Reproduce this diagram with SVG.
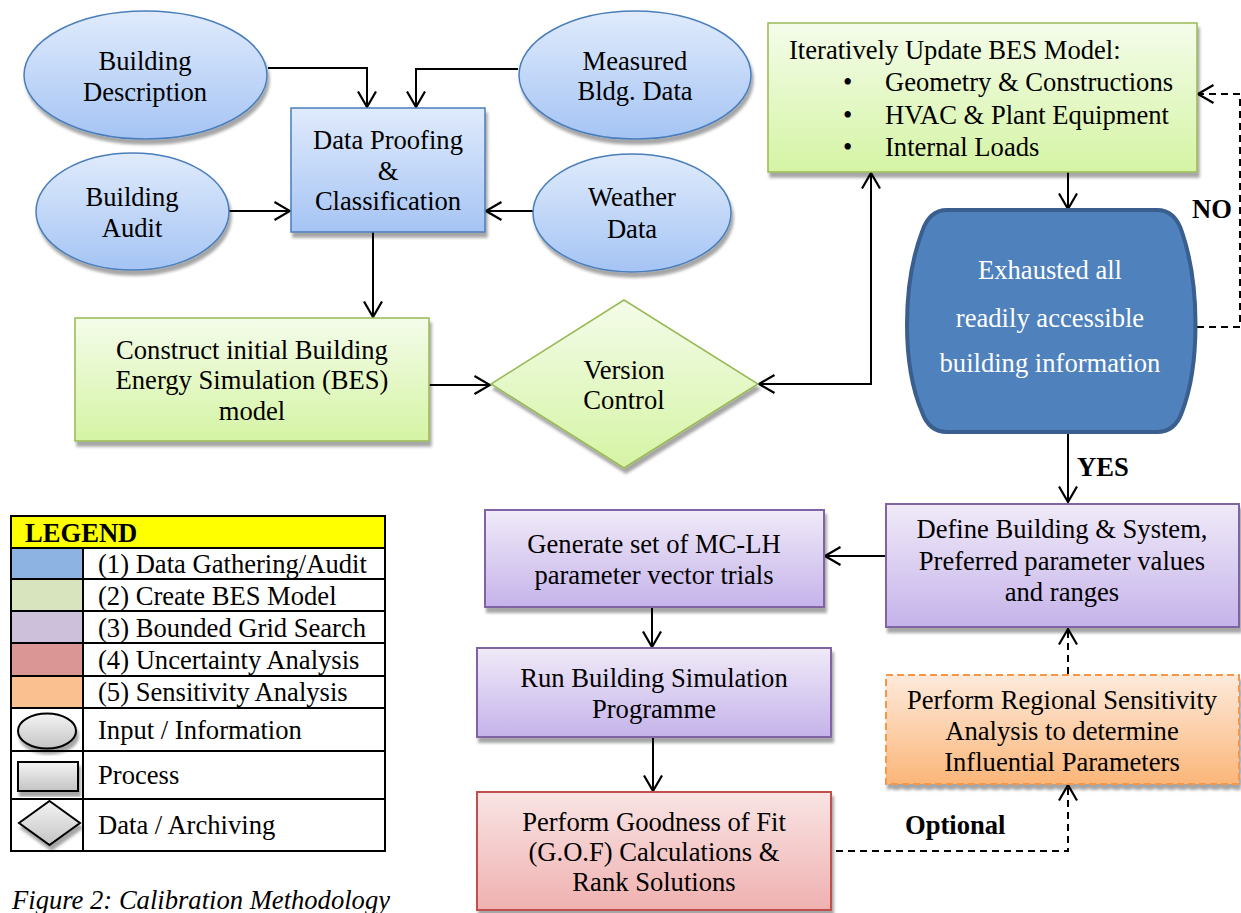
<svg xmlns="http://www.w3.org/2000/svg" width="1241" height="913" viewBox="0 0 1241 913">
<defs>
<linearGradient id="gBlue" x1="0" y1="0" x2="0" y2="1"><stop offset="0" stop-color="#e0ebfc"/><stop offset="1" stop-color="#a5c4f4"/></linearGradient>
<linearGradient id="gGreen" x1="0" y1="0" x2="0" y2="1"><stop offset="0" stop-color="#f4fcea"/><stop offset="1" stop-color="#d5f4a4"/></linearGradient>
<linearGradient id="gPurple" x1="0" y1="0" x2="0" y2="1"><stop offset="0" stop-color="#f0eaf8"/><stop offset="1" stop-color="#c5b3ea"/></linearGradient>
<linearGradient id="gRed" x1="0" y1="0" x2="0" y2="1"><stop offset="0" stop-color="#f9e4e4"/><stop offset="1" stop-color="#efb1b0"/></linearGradient>
<linearGradient id="gOrange" x1="0" y1="0" x2="0" y2="1"><stop offset="0" stop-color="#fdeadb"/><stop offset="1" stop-color="#fbb679"/></linearGradient>
<linearGradient id="gGrey" x1="0" y1="0" x2="0" y2="1"><stop offset="0" stop-color="#f4f4f4"/><stop offset="1" stop-color="#c4c4c4"/></linearGradient>
<filter id="sh" x="-10%" y="-10%" width="125%" height="130%"><feDropShadow dx="2" dy="5" stdDeviation="1.5" flood-color="#000" flood-opacity="0.35"/></filter>
<marker id="arr" viewBox="0 0 18 20" refX="16.5" refY="10" markerWidth="18" markerHeight="20" markerUnits="userSpaceOnUse" orient="auto-start-reverse"><path d="M1,1 L16.5,10 L1,19" fill="none" stroke="#000" stroke-width="2.2"/></marker>
</defs>
<style>
text{font-family:"Liberation Serif","Times New Roman",serif;font-size:26.6px;fill:#000}
.c{text-anchor:middle}
.b{font-weight:bold}
.w{fill:#fff}
.blue{fill:url(#gBlue);stroke:#4a7ebb;stroke-width:1.5;filter:url(#sh)}
.green{fill:url(#gGreen);stroke:#98b954;stroke-width:1.5;filter:url(#sh)}
.purple{fill:url(#gPurple);stroke:#8064a2;stroke-width:2;filter:url(#sh)}
.red{fill:url(#gRed);stroke:#c0504d;stroke-width:2;filter:url(#sh)}
.orange{fill:url(#gOrange);stroke:#f79646;stroke-width:2;stroke-dasharray:7,4;filter:url(#sh)}
.grey{fill:url(#gGrey);stroke:#000;stroke-width:2;filter:url(#sh)}
.ln{fill:none;stroke:#000;stroke-width:2}
.dl{fill:none;stroke:#000;stroke-width:2;stroke-dasharray:7,5}
.lg{fill:none;stroke:#000;stroke-width:2}
</style>

<g id="connectors">
<path class="ln" d="M268,68 H367 V107" marker-end="url(#arr)"/>
<path class="ln" d="M518,69 H416 V107" marker-end="url(#arr)"/>
<path class="ln" d="M229,211 H290" marker-end="url(#arr)"/>
<path class="ln" d="M533,211 H486" marker-end="url(#arr)"/>
<path class="ln" d="M373,232 V317" marker-end="url(#arr)"/>
<path class="ln" d="M429,385 H490" marker-end="url(#arr)"/>
<path class="ln" d="M759,384 H871 V173" marker-start="url(#arr)" marker-end="url(#arr)"/>
<path class="ln" d="M1068,172 V209" marker-end="url(#arr)"/>
<path class="dl" d="M1197,327 H1240 V94 H1198" marker-end="url(#arr)"/>
<path class="ln" d="M1068,433 V502" marker-end="url(#arr)"/>
<path class="ln" d="M885,556 H825" marker-end="url(#arr)"/>
<path class="ln" d="M652,607 V647" marker-end="url(#arr)"/>
<path class="ln" d="M653,738 V791" marker-end="url(#arr)"/>
<path class="dl" d="M836,851 H1068 V785" marker-end="url(#arr)"/>
<path class="dl" d="M1068,674 V629" marker-end="url(#arr)"/>
<text class="b" x="1192" y="218">NO</text>
<text class="b" x="1077" y="476">YES</text>
<text class="b" x="905" y="834">Optional</text>
</g>

<g id="building-description">
<ellipse class="blue" cx="145.5" cy="75" rx="121.5" ry="64"/>
<text class="c" x="145" y="70">Building</text>
<text class="c" x="145" y="101">Description</text>
</g>
<g id="measured-data">
<ellipse class="blue" cx="635" cy="75" rx="116" ry="64"/>
<text class="c" x="635" y="70">Measured</text>
<text class="c" x="635" y="100">Bldg. Data</text>
</g>
<g id="building-audit">
<ellipse class="blue" cx="132.5" cy="211.5" rx="96.5" ry="58.5"/>
<text class="c" x="132" y="206">Building</text>
<text class="c" x="132" y="237">Audit</text>
</g>
<g id="weather-data">
<ellipse class="blue" cx="632" cy="213" rx="99" ry="59"/>
<text class="c" x="632" y="206">Weather</text>
<text class="c" x="632" y="238">Data</text>
</g>
<g id="data-proofing">
<rect class="blue" x="291" y="108" width="194" height="124"/>
<text class="c" x="388" y="149">Data Proofing</text>
<text class="c" x="388" y="180">&amp;</text>
<text class="c" x="388" y="210">Classification</text>
</g>
<g id="construct-bes">
<rect class="green" x="75" y="318" width="354" height="123"/>
<text class="c" x="252" y="359">Construct initial Building</text>
<text class="c" x="252" y="389">Energy Simulation (BES)</text>
<text class="c" x="252" y="420">model</text>
</g>
<g id="version-control">
<polygon class="green" points="624,300 758,384 624,468 491,384"/>
<text class="c" x="624" y="379">Version</text>
<text class="c" x="624" y="409">Control</text>
</g>
<g id="update-bes">
<rect class="green" x="768" y="23" width="429" height="149"/>
<text x="789" y="59">Iteratively Update BES Model:</text>
<text x="843" y="91">•</text>
<text x="885" y="91">Geometry &amp; Constructions</text>
<text x="843" y="124">•</text>
<text x="885" y="124">HVAC &amp; Plant Equipment</text>
<text x="843" y="156">•</text>
<text x="885" y="156">Internal Loads</text>
</g>
<g id="exhausted">
<path d="M947,210 L1157,210 Q1175,210 1182,232 C1200,285 1200,365 1182,412 Q1175,432 1157,432 L947,432 Q929,432 922,412 C902,365 902,285 922,232 Q929,210 947,210 Z" fill="#4f81bd" stroke="#3a5f8f" stroke-width="4"/>
<text class="c w" x="1050" y="279">Exhausted all</text>
<text class="c w" x="1050" y="327">readily accessible</text>
<text class="c w" x="1050" y="372">building information</text>
</g>
<g id="define-building">
<rect class="purple" x="886" y="504" width="353" height="123"/>
<text class="c" x="1062" y="538">Define Building &amp; System,</text>
<text class="c" x="1062" y="570">Preferred parameter values</text>
<text class="c" x="1062" y="601">and ranges</text>
</g>
<g id="generate-set">
<rect class="purple" x="485" y="510" width="339" height="97"/>
<text class="c" x="654" y="553">Generate set of MC-LH</text>
<text class="c" x="654" y="584">parameter vector trials</text>
</g>
<g id="run-simulation">
<rect class="purple" x="477" y="648" width="354" height="89"/>
<text class="c" x="654" y="687">Run Building Simulation</text>
<text class="c" x="654" y="718">Programme</text>
</g>
<g id="goodness-of-fit">
<rect class="red" x="477" y="792" width="354" height="118"/>
<text class="c" x="654" y="831">Perform Goodness of Fit</text>
<text class="c" x="654" y="861">(G.O.F) Calculations &amp;</text>
<text class="c" x="654" y="891">Rank Solutions</text>
</g>
<g id="regional-sensitivity">
<rect class="orange" x="886" y="675" width="353" height="109"/>
<text class="c" x="1062" y="709">Perform Regional Sensitivity</text>
<text class="c" x="1062" y="740">Analysis to determine</text>
<text class="c" x="1062" y="771">Influential Parameters</text>
</g>

<g id="legend">
<rect x="11" y="516" width="374" height="32" fill="#ffff00"/>
<rect x="11" y="548" width="72" height="31" fill="#8db3e2"/>
<rect x="11" y="579" width="72" height="32" fill="#d7e4bd"/>
<rect x="11" y="611" width="72" height="32" fill="#ccc0da"/>
<rect x="11" y="643" width="72" height="33" fill="#d99694"/>
<rect x="11" y="676" width="72" height="32" fill="#fac090"/>
<rect class="lg" x="11" y="516" width="374" height="335"/>
<path class="lg" d="M11,548 H385 M11,579 H385 M11,611 H385 M11,643 H385 M11,676 H385 M11,708 H385 M11,751 H385 M11,799 H385 M83,548 V851"/>
<text class="b" x="25" y="542">LEGEND</text>
<text x="98" y="573">(1) Data Gathering/Audit</text>
<text x="98" y="605">(2) Create BES Model</text>
<text x="98" y="637">(3) Bounded Grid Search</text>
<text x="98" y="669">(4) Uncertainty Analysis</text>
<text x="98" y="701">(5) Sensitivity Analysis</text>
<text x="98" y="739">Input / Information</text>
<text x="98" y="784">Process</text>
<text x="98" y="834">Data / Archiving</text>
<ellipse class="grey" cx="47" cy="731" rx="29" ry="17.5"/>
<rect class="grey" x="18" y="762" width="60" height="29"/>
<polygon class="grey" points="49.5,801 80,823 49.5,845 19,823"/>
</g>

<g id="caption">
<text x="12" y="909" font-style="italic" textLength="378">Figure 2: Calibration Methodology</text>
</g>
</svg>
